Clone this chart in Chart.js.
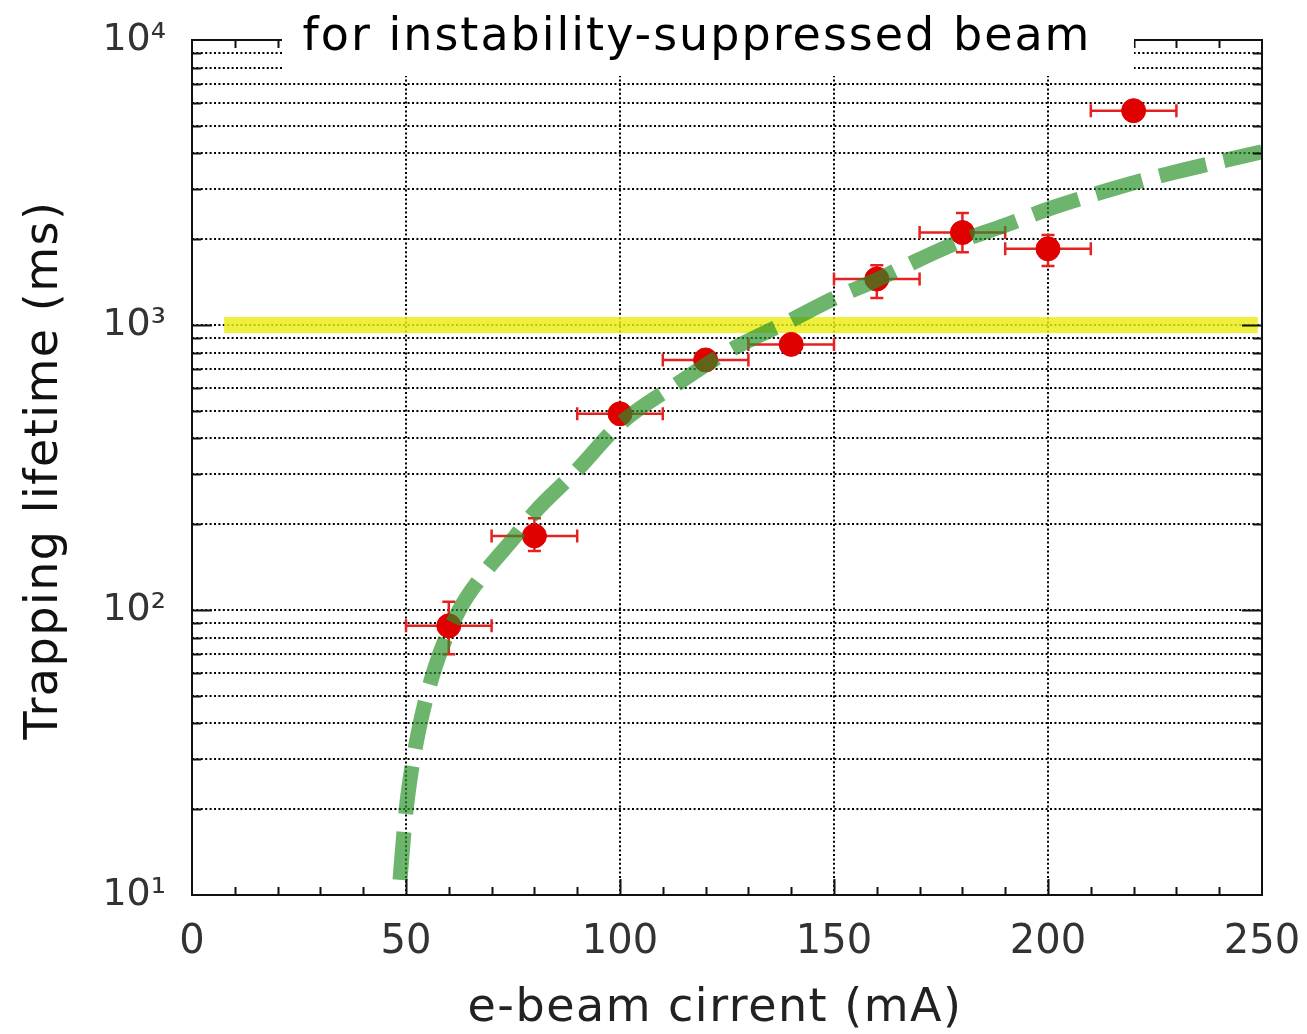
<!DOCTYPE html>
<html>
<head>
<meta charset="utf-8">
<script src="https://cdn.jsdelivr.net/npm/chart.js@4.4.0/dist/chart.umd.min.js"></script>
<style>
  html, body { margin: 0; padding: 0; background: #fff; }
</style>
</head>
<body>
<canvas id="chart" width="1307" height="1034"></canvas>
<script>
// measured points (e-beam current in mA, lifetime in ms)
const pointX = [60, 80, 100, 120, 140, 160, 180, 200, 220];
const pointY = [88, 182, 488, 754, 855, 1450, 2110, 1850, 5650];
const xErr = [10, 10, 10, 10, 10, 10, 10, 10, 10];
const yLow = [70, 161, 470, 730, 830, 1245, 1800, 1610, 5500];
const yHigh = [107, 210, 505, 780, 880, 1620, 2470, 2070, 5800];

// dashed fit curve
const curveX = [48.6, 49.5, 50.5, 53, 56.8, 62.6, 68, 74.8, 80, 90, 100, 113.6, 125, 140, 150, 160, 170, 180, 190, 200, 215, 230, 250];
const curveY = [11.3, 16.5, 22.8, 38, 63, 101, 133, 176, 220, 310, 450, 625, 804, 1040, 1240, 1440, 1700, 1980, 2240, 2550, 3000, 3450, 4050];

// yellow reference line at 1 s
const bandX = [7.5, 249];
const bandY = [1000, 1000];

// axes
const xTicks = [0, 50, 100, 150, 200, 250];
const yMajor = [10, 100, 1000, 10000];
const yTickLabels = ['10\u00b9', '10\u00b2', '10\u00b3', '10\u2074'];
const yMinorMult = [2, 3, 4, 5, 6, 7, 8, 9];

const FONT = '"DejaVu Sans", sans-serif';

// every grid value on the log axis
const yGrid = [];
yMajor.forEach((m, i) => {
  yGrid.push(m);
  if (i < yMajor.length - 1) yMinorMult.forEach(k => yGrid.push(m * k));
});

const pts = (xs, ys) => xs.map((x, i) => ({ x: x, y: ys[i] }));

const errorBars = {
  id: 'errorBars',
  beforeDatasetDraw(chart, args) {
    if (args.index !== 1) return;
    const ctx = chart.ctx, xs = chart.scales.x, ys = chart.scales.y;
    ctx.save();
    ctx.strokeStyle = '#e52222';
    ctx.lineWidth = 2.5;
    const cap = 6.5;
    for (let i = 0; i < pointX.length; i++) {
      const px = xs.getPixelForValue(pointX[i]);
      const py = ys.getPixelForValue(pointY[i]);
      const x1 = xs.getPixelForValue(pointX[i] - xErr[i]);
      const x2 = xs.getPixelForValue(pointX[i] + xErr[i]);
      const y1 = ys.getPixelForValue(yLow[i]);
      const y2 = ys.getPixelForValue(yHigh[i]);
      ctx.beginPath();
      ctx.moveTo(x1, py); ctx.lineTo(x2, py);
      ctx.moveTo(x1, py - cap); ctx.lineTo(x1, py + cap);
      ctx.moveTo(x2, py - cap); ctx.lineTo(x2, py + cap);
      ctx.moveTo(px, y1); ctx.lineTo(px, y2);
      ctx.moveTo(px - cap, y1); ctx.lineTo(px + cap, y1);
      ctx.moveTo(px - cap, y2); ctx.lineTo(px + cap, y2);
      ctx.stroke();
    }
    ctx.restore();
  }
};

const frame = {
  id: 'frame',
  afterDraw(chart) {
    const ctx = chart.ctx, a = chart.chartArea;
    const xs = chart.scales.x, ys = chart.scales.y;
    ctx.save();
    ctx.strokeStyle = '#111';
    ctx.lineWidth = 2;
    ctx.strokeRect(a.left, a.top, a.right - a.left, a.bottom - a.top);
    ctx.beginPath();
    for (let v = 10; v < 250; v += 10) {
      const px = Math.round(xs.getPixelForValue(v)) + 0.5;
      const len = v % 50 === 0 ? 16 : 8;
      ctx.moveTo(px, a.bottom); ctx.lineTo(px, a.bottom - len);
      ctx.moveTo(px, a.top); ctx.lineTo(px, a.top + len);
    }
    yGrid.forEach(v => {
      if (v === yMajor[0] || v === yMajor[yMajor.length - 1]) return;
      const py = Math.round(ys.getPixelForValue(v)) + 0.5;
      const len = yMajor.includes(v) ? 20 : 9;
      ctx.moveTo(a.left, py); ctx.lineTo(a.left + len, py);
      ctx.moveTo(a.right, py); ctx.lineTo(a.right - len, py);
    });
    ctx.stroke();

    // title sits on a white box over the top of the frame
    ctx.fillStyle = '#fff';
    ctx.fillRect(282, 0, 852, 76);
    ctx.fillStyle = '#000';
    ctx.textAlign = 'center';
    ctx.textBaseline = 'alphabetic';
    ctx.font = '46px ' + FONT;
    ctx.letterSpacing = '2px';
    ctx.fillText('for instability-suppressed beam', 697, 50);

    ctx.fillStyle = '#222';
    ctx.font = '46px ' + FONT;
    ctx.letterSpacing = '1.5px';
    ctx.fillText('e-beam cirrent (mA)', 715, 1021);

    ctx.save();
    ctx.translate(57, 470);
    ctx.rotate(-Math.PI / 2);
    ctx.fillStyle = '#111';
    ctx.fillText('Trapping lifetime (ms)', 0, 0);
    ctx.restore();
    ctx.restore();
  }
};

const noPad = s => { s.paddingLeft = 0; s.paddingRight = 0; s.paddingTop = 0; s.paddingBottom = 0; };

new Chart(document.getElementById('chart'), {
  type: 'scatter',
  data: {
    datasets: [
      {
        data: pts(curveX, curveY),
        showLine: true,
        borderColor: 'rgba(40, 145, 40, 0.68)',
        borderWidth: 15,
        borderDash: [48, 18],
        borderCapStyle: 'butt',
        cubicInterpolationMode: 'monotone',
        pointRadius: 0,
        clip: 0
      },
      {
        data: pts(pointX, pointY),
        pointRadius: 12,
        pointBackgroundColor: '#e00000',
        pointBorderColor: '#e00000',
        pointBorderWidth: 1
      },
      {
        data: pts(bandX, bandY),
        showLine: true,
        borderColor: 'rgba(235, 235, 20, 0.82)',
        borderWidth: 16,
        borderCapStyle: 'butt',
        pointRadius: 0
      }
    ]
  },
  options: {
    responsive: false,
    animation: false,
    layout: { padding: { left: 0, right: 45, top: 40, bottom: 0 } },
    plugins: { legend: { display: false }, tooltip: { enabled: false } },
    scales: {
      x: {
        type: 'linear',
        min: 0,
        max: 250,
        afterBuildTicks: s => { s.ticks = xTicks.map(v => ({ value: v })); },
        afterFit: s => { s.height = 139; noPad(s); },
        ticks: { font: { size: 40, family: FONT }, color: '#333', padding: 24, maxRotation: 0 },
        grid: {
          drawTicks: false,
          lineWidth: 2,
          color: c => (c.tick && (c.tick.value === 0 || c.tick.value === 250)) ? 'rgba(0,0,0,0)' : '#000'
        },
        border: { display: false, dash: [2, 2.4] }
      },
      y: {
        type: 'logarithmic',
        min: 10,
        max: 10000,
        afterBuildTicks: s => { s.ticks = yGrid.map(v => ({ value: v })); },
        afterFit: s => { s.width = 192; noPad(s); },
        ticks: {
          autoSkip: false,
          font: { size: 38, family: FONT },
          color: '#333',
          padding: 26,
          callback: v => {
            const i = yMajor.indexOf(v);
            return i >= 0 ? yTickLabels[i] : '';
          }
        },
        grid: {
          drawTicks: false,
          lineWidth: 2,
          color: c => (c.tick && (c.tick.value === 10 || c.tick.value === 10000)) ? 'rgba(0,0,0,0)' : '#000'
        },
        border: { display: false, dash: [2, 2.4] }
      }
    }
  },
  plugins: [errorBars, frame]
});
</script>
</body>
</html>
